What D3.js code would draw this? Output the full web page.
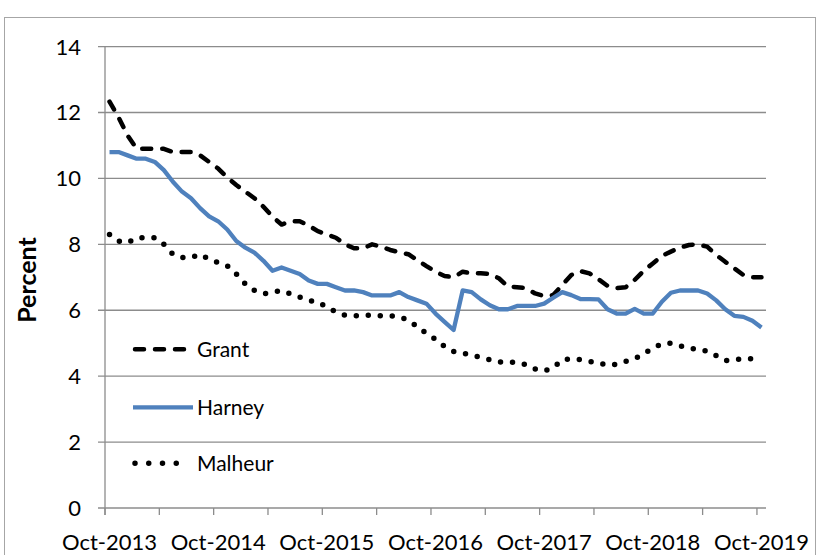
<!DOCTYPE html>
<html>
<head>
<meta charset="utf-8">
<script src="https://cdn.jsdelivr.net/npm/d3@7"></script>
<style>
  html, body { margin: 0; padding: 0; background: #fff; }
  svg { display: block; }
  text { font-family: Lato, "Open Sans", sans-serif; fill: #000; }
</style>
</head>
<body>
<svg id="chart" width="820" height="555"></svg>
<script>
// ---- Data (monthly, Oct-2013 .. Oct-2019) ----
const startMonth = new Date(2013, 9, 1);
const endMonth = new Date(2019, 10, 1);
const months = d3.timeMonth.range(startMonth, endMonth);
const fmt = d3.timeFormat("%b-%Y");
const categories = months.map(fmt);

const grant = [
  12.33, 11.85, 11.3, 10.9, 10.9, 10.9, 10.9, 10.8, 10.8, 10.8,
  10.7, 10.5, 10.3, 10.03, 9.8, 9.6, 9.4, 9.14, 8.84, 8.6,
  8.7, 8.7, 8.57, 8.4, 8.3, 8.2, 8.0, 7.88, 7.88, 8.0,
  7.93, 7.83, 7.76, 7.7, 7.52, 7.34, 7.17, 7.04, 7.0, 7.17,
  7.12, 7.12, 7.1, 6.97, 6.72, 6.7, 6.67, 6.51, 6.43, 6.46,
  6.77, 7.07, 7.19, 7.12, 6.94, 6.74, 6.67, 6.7, 6.92, 7.2,
  7.42, 7.65, 7.78, 7.9, 7.98, 8.0, 7.93, 7.68, 7.47, 7.27,
  7.07, 7.0, 7.0
];
const harney = [
  10.8, 10.8, 10.7, 10.6, 10.6, 10.5, 10.25, 9.9, 9.6, 9.4,
  9.1, 8.85, 8.7, 8.45, 8.1, 7.9, 7.75, 7.5, 7.2, 7.3,
  7.2, 7.1, 6.9, 6.8, 6.8, 6.7, 6.6, 6.6, 6.55, 6.45,
  6.45, 6.45, 6.55, 6.4, 6.3, 6.2, 5.9, 5.65, 5.4, 6.6,
  6.55, 6.33, 6.15, 6.03, 6.03, 6.13, 6.13, 6.13, 6.2, 6.38,
  6.55, 6.46, 6.34, 6.34, 6.33, 6.03, 5.9, 5.9, 6.04, 5.9,
  5.9, 6.26, 6.53, 6.6, 6.6, 6.6, 6.51, 6.3, 6.03, 5.83,
  5.8, 5.68, 5.48
];
const malheur = [
  8.3, 8.1, 8.05, 8.2, 8.2, 8.2, 8.0, 7.7, 7.6, 7.6,
  7.7, 7.55, 7.45, 7.35, 7.1, 6.8, 6.6, 6.5, 6.55, 6.6,
  6.5, 6.4, 6.3, 6.25, 6.1, 5.95, 5.85, 5.83, 5.85, 5.85,
  5.83, 5.83, 5.8, 5.7, 5.5, 5.3, 5.12, 4.9, 4.75, 4.7,
  4.63, 4.57, 4.5, 4.43, 4.43, 4.42, 4.35, 4.22, 4.16, 4.25,
  4.5, 4.53, 4.5, 4.45, 4.4, 4.33, 4.36, 4.45, 4.53, 4.68,
  4.85, 4.98, 5.0, 4.92, 4.86, 4.8, 4.76, 4.62, 4.47, 4.5,
  4.53, 4.53, 4.53
];

const seriesNames = ["Grant", "Harney", "Malheur"];
const yTicks = [0, 2, 4, 6, 8, 10, 12, 14];
const xTickLabels = ["Oct-2013", "Oct-2014", "Oct-2015", "Oct-2016", "Oct-2017", "Oct-2018", "Oct-2019"];
const yTitle = "Percent";

// ---- Layout ----
const svg = d3.select("#chart");
const plotLeft = 105, plotRight = 766, plotTop = 46.6, plotBottom = 508;

// chart border
svg.append("rect")
  .attr("x", 4.5).attr("y", 17.5)
  .attr("width", 811).attr("height", 600)
  .attr("fill", "none").attr("stroke", "#a6a6a6").attr("stroke-width", 1);

const x = d3.scaleBand().domain(categories).range([plotLeft, plotRight]).paddingInner(0).paddingOuter(0);
const y = d3.scaleLinear().domain([0, 14]).range([plotBottom, plotTop]);
const cx = c => x(c) + x.bandwidth() / 2;

// gridlines
svg.append("g").selectAll("line").data(yTicks.filter(d => d > 0)).join("line")
  .attr("x1", plotLeft - 7).attr("x2", plotRight)
  .attr("y1", d => y(d)).attr("y2", d => y(d))
  .attr("stroke", "#8c8c8c").attr("stroke-width", 1.3);

// y axis line
svg.append("line")
  .attr("x1", plotLeft).attr("x2", plotLeft).attr("y1", plotTop).attr("y2", plotBottom + 7)
  .attr("stroke", "#8c8c8c").attr("stroke-width", 1.3);

// x axis line (with small left tick)
svg.append("line")
  .attr("x1", plotLeft - 7).attr("x2", plotRight).attr("y1", plotBottom).attr("y2", plotBottom)
  .attr("stroke", "#8c8c8c").attr("stroke-width", 1.3);

// x tick marks every 6 months, at category boundaries
const tickCats = categories.filter((c, i) => i % 6 === 0);
svg.append("g").selectAll("line").data(tickCats).join("line")
  .attr("x1", d => x(d)).attr("x2", d => x(d))
  .attr("y1", plotBottom).attr("y2", plotBottom + 7)
  .attr("stroke", "#8c8c8c").attr("stroke-width", 1.3);

// y labels
svg.append("g").selectAll("text").data(yTicks).join("text")
  .attr("x", 81).attr("y", d => y(d))
  .attr("dy", "0.36em")
  .attr("text-anchor", "end")
  .style("font-size", "22px")
  .text(d => d);

// x labels
svg.append("g").selectAll("text").data(xTickLabels).join("text")
  .attr("x", d => cx(d))
  .attr("y", 550)
  .attr("text-anchor", "middle")
  .style("font-size", "22px")
  .text(d => d);

// y title
svg.append("text")
  .attr("transform", "translate(36,280) rotate(-90)")
  .attr("text-anchor", "middle")
  .style("font-size", "25px").style("font-weight", "bold")
  .text(yTitle);

// lines
const lineGen = d3.line().x((d, i) => cx(categories[i])).y(d => y(d));
const styles = {
  Grant:   { stroke: "#000", width: 4.5, dash: "9 11", cap: "round" },
  Harney:  { stroke: "#4f81bd", width: 4.3, dash: null, cap: "butt" },
  Malheur: { stroke: "#000", width: 5.5, dash: "0 12", cap: "round" }
};
const seriesData = { Grant: grant, Harney: harney, Malheur: malheur };

seriesNames.forEach(name => {
  const s = styles[name];
  svg.append("path")
    .datum(seriesData[name])
    .attr("d", lineGen)
    .attr("fill", "none")
    .attr("stroke", s.stroke)
    .attr("stroke-width", s.width)
    .attr("stroke-linecap", s.cap)
    .attr("stroke-linejoin", "round")
    .attr("stroke-dasharray", s.dash);
});

// legend
const legendY = [349.3, 407.3, 463.3];
const legendLen = { Grant: [135, 186], Harney: [133, 193], Malheur: [135, 190] };
const lg = svg.append("g");
seriesNames.forEach((name, i) => {
  const s = styles[name];
  lg.append("line")
    .attr("x1", legendLen[name][0]).attr("x2", legendLen[name][1])
    .attr("y1", legendY[i]).attr("y2", legendY[i])
    .attr("stroke", s.stroke).attr("stroke-width", s.width)
    .attr("stroke-linecap", s.cap)
    .attr("stroke-dasharray", name === "Malheur" ? "0 13.75" : s.dash);
  lg.append("text")
    .attr("x", 197).attr("y", legendY[i])
    .attr("dy", "0.36em")
    .style("font-size", "21px")
    .text(name);
});
</script>
</body>
</html>
